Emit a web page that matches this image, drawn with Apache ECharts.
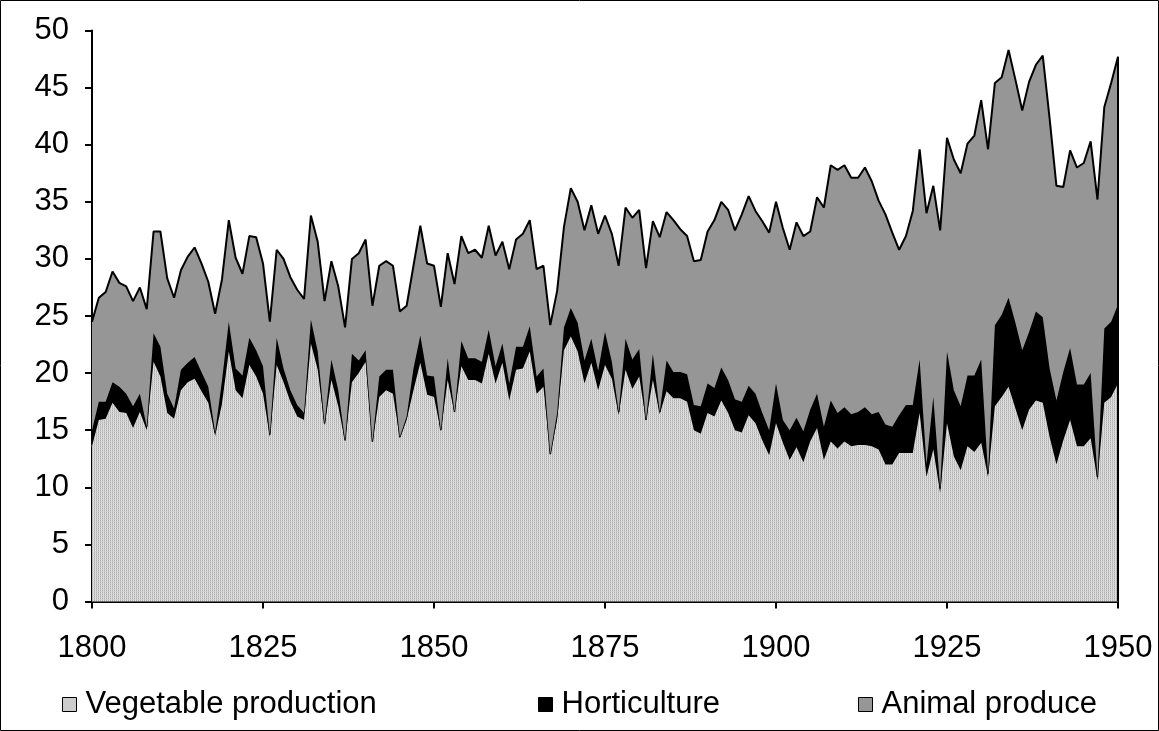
<!DOCTYPE html>
<html>
<head>
<meta charset="utf-8">
<script src="https://cdn.jsdelivr.net/npm/echarts@6/dist/echarts.min.js"></script>
<style>
html,body{margin:0;padding:0;background:#fff;}
#chart{width:1159px;height:731px;}
</style>
</head>
<body>
<div id="chart"></div>
<script>
// categories: years 1800..1950
const years = [];
for (let y = 1800; y <= 1950; y++) years.push(String(y));

const yTicks = [0, 5, 10, 15, 20, 25, 30, 35, 40, 45, 50];

const vegetable = [
 13.6, 15.9, 16.0, 17.4, 16.6, 16.5, 15.2, 16.6, 15.0, 21.0,
 19.7, 16.5, 16.0, 18.5, 19.2, 19.5, 18.4, 17.4, 14.5, 17.3,
 21.9, 18.5, 17.8, 20.7, 19.7, 18.2, 14.4, 20.7, 19.2, 17.5,
 16.2, 15.9, 22.6, 20.3, 15.4, 19.4, 17.1, 14.0, 19.2, 20.0,
 21.0, 13.9, 17.9, 18.5, 18.2, 14.3, 15.9, 18.5, 20.9, 18.1,
 17.9, 14.9, 19.4, 16.5, 20.6, 19.4, 19.4, 19.1, 21.7, 19.1,
 20.9, 17.6, 20.3, 20.4, 21.9, 18.2, 18.8, 12.8, 15.9, 22.0,
 23.2, 21.9, 19.1, 20.9, 18.5, 20.7, 19.5, 16.3, 20.3, 18.6,
 19.7, 15.8, 19.4, 16.4, 18.4, 17.8, 17.8, 17.5, 15.0, 14.7,
 16.5, 16.2, 17.6, 16.5, 15.0, 14.8, 16.3, 15.6, 14.1, 12.8,
 15.6, 13.9, 12.4, 13.5, 12.2, 14.0, 15.2, 12.4, 14.0, 13.4,
 14.0, 13.6, 13.7, 13.7, 13.6, 13.3, 12.0, 12.0, 13.0, 13.0,
 13.0, 16.5, 10.9, 13.3, 9.5, 15.6, 12.7, 11.5, 13.6, 13.1,
 13.9, 10.9, 17.1, 17.9, 18.8, 16.9, 15.0, 16.8, 17.6, 17.4,
 14.4, 12.0, 14.1, 15.9, 13.6, 13.6, 14.3, 10.6, 17.4, 17.9,
 19.1
];

const horticulture = [
 1.4, 1.6, 1.5, 1.8, 2.2, 1.7, 1.9, 1.6, 0.3, 2.5,
 2.6, 1.7, 0.9, 1.8, 1.7, 1.9, 1.7, 1.4, 0.3, 2.0,
 2.6, 1.9, 2.0, 2.4, 2.3, 2.4, 0.2, 2.4, 1.2, 1.0,
 1.0, 0.6, 2.1, 1.6, 0.2, 1.8, 1.4, 0.1, 2.5, 1.1,
 1.0, 0.1, 1.8, 1.8, 2.1, 0.1, 0.3, 1.9, 2.4, 1.7,
 1.8, 0.1, 1.9, 0.1, 2.2, 1.9, 1.9, 1.9, 2.1, 1.5,
 1.7, 1.5, 2.0, 1.9, 2.2, 1.5, 1.6, 0.1, 0.6, 2.0,
 2.5, 2.5, 2.0, 2.1, 1.7, 2.9, 1.5, 0.3, 2.7, 2.6,
 2.4, 0.1, 2.3, 0.2, 2.7, 2.3, 2.3, 2.4, 2.2, 2.4,
 2.6, 2.5, 2.9, 2.9, 2.7, 2.7, 2.6, 2.6, 2.4, 2.2,
 3.5, 2.0, 2.6, 2.6, 2.7, 2.8, 3.0, 2.9, 3.6, 3.1,
 3.0, 2.8, 2.9, 3.3, 2.8, 3.3, 3.5, 3.3, 3.3, 4.2,
 4.2, 4.7, 1.1, 4.6, 0.4, 6.3, 5.8, 5.6, 6.2, 6.7,
 7.3, 0.3, 7.1, 7.2, 7.8, 7.5, 7.0, 6.8, 7.8, 7.5,
 6.0, 5.6, 6.0, 6.3, 5.4, 5.4, 5.7, 0.3, 6.5, 6.6,
 6.9
];

const animal = [
 9.5, 9.1, 9.6, 9.7, 9.1, 9.4, 9.2, 9.3, 10.3, 8.9,
 10.1, 10.1, 9.7, 8.7, 9.3, 9.6, 9.5, 9.2, 10.4, 8.9,
 8.9, 9.7, 8.9, 8.9, 9.9, 9.0, 9.9, 7.7, 9.6, 9.9,
 10.1, 10.0, 9.1, 9.6, 10.7, 8.6, 9.1, 9.9, 8.3, 9.4,
 9.7, 11.9, 9.7, 9.5, 9.1, 11.0, 9.7, 9.0, 9.6, 9.8,
 9.7, 10.8, 9.2, 11.2, 9.2, 9.2, 9.5, 9.1, 9.1, 9.7,
 8.9, 10.0, 9.4, 9.9, 9.3, 9.4, 9.0, 11.3, 10.7, 8.8,
 10.5, 10.6, 11.4, 11.7, 12.0, 10.2, 11.2, 12.8, 11.5, 12.4,
 12.2, 13.3, 11.6, 15.3, 13.0, 13.3, 12.5, 12.1, 12.6, 12.8,
 13.3, 14.7, 14.5, 14.9, 14.8, 16.4, 16.6, 16.0, 16.8, 17.3,
 15.9, 16.8, 15.8, 17.1, 17.1, 15.6, 17.2, 19.2, 20.6, 21.3,
 21.2, 20.7, 20.5, 21.0, 20.4, 18.5, 18.4, 17.0, 14.5, 14.8,
 17.0, 18.4, 22.0, 18.5, 22.6, 18.7, 20.2, 20.4, 20.3, 21.0,
 22.7, 28.4, 21.2, 20.8, 21.7, 21.3, 21.0, 21.9, 21.6, 22.9,
 21.9, 18.8, 16.2, 17.3, 19.0, 19.4, 20.3, 24.3, 19.4, 20.9,
 21.7
];

// dotted grey pattern for the vegetable area
const pc = document.createElement('canvas');
pc.width = 4; pc.height = 4;
const pctx = pc.getContext('2d');
for (let x = 0; x < 4; x++) {
  for (let y = 0; y < 4; y++) {
    let col;
    if (x % 2 === 0) col = (y % 2 === 0) ? '#b2b2b2' : '#c6c6c6';
    else col = (y % 2 === 0) ? '#e2e2e2' : '#d6d6d6';
    pctx.fillStyle = col;
    pctx.fillRect(x, y, 1, 1);
  }
}
const vegPattern = { image: pc, repeat: 'repeat' };

const FONT = "'Liberation Sans', Arial, sans-serif";
const FS = 31;

const chart = echarts.init(document.getElementById('chart'), null, { renderer: 'canvas' });

const lastIdx = years.length - 1;
const lastTotal = vegetable[lastIdx] + horticulture[lastIdx] + animal[lastIdx];

chart.setOption({
  animation: false,
  backgroundColor: '#ffffff',
  textStyle: { fontFamily: FONT },
  graphic: [{
    type: 'rect',
    shape: { x: 0.5, y: 0.5, width: 1158, height: 730 },
    style: { fill: 'none', stroke: '#000', lineWidth: 1 },
    silent: true, z: 100
  }],
  grid: { left: 92, right: 41, top: 30.5, bottom: 129.5, containLabel: false },
  legend: [
    { data: ['Vegetable production'], left: 62, top: 689 },
    { data: ['Horticulture'], left: 538, top: 689 },
    { data: ['Animal produce'], left: 858, top: 689 }
  ].map(l => Object.assign(l, {
    icon: 'rect', itemWidth: 14, itemHeight: 14, itemGap: 0, padding: 0,
    itemStyle: { borderColor: '#000', borderWidth: 1 },
    textStyle: { fontSize: FS, color: '#000', fontFamily: FONT, padding: [0, 0, 0, 4] },
    selectedMode: false
  })),
  xAxis: {
    type: 'category',
    data: years,
    boundaryGap: false,
    axisLine: { lineStyle: { color: '#000', width: 2 } },
    axisTick: { show: true, interval: 24, length: 7, lineStyle: { color: '#000', width: 2 } },
    axisLabel: { interval: 24, fontSize: FS, color: '#000', margin: 31, fontFamily: FONT },
    splitLine: { show: false }
  },
  yAxis: {
    type: 'value',
    min: yTicks[0], max: yTicks[yTicks.length - 1], interval: 5,
    axisLine: { show: true, lineStyle: { color: '#000', width: 2 } },
    axisTick: { show: true, length: 7, lineStyle: { color: '#000', width: 2 } },
    axisLabel: { fontSize: FS, color: '#000', margin: 23, fontFamily: FONT },
    splitLine: { show: false }
  },
  series: [
    {
      name: 'Vegetable production', type: 'line', stack: 'total', data: vegetable,
      showSymbol: false, symbol: 'none',
      itemStyle: { color: vegPattern },
      lineStyle: { color: '#d8d8d8', width: 1 },
      areaStyle: { color: vegPattern, opacity: 1 },
      z: 2
    },
    {
      name: 'Horticulture', type: 'line', stack: 'total', data: horticulture,
      showSymbol: false, symbol: 'none',
      itemStyle: { color: '#000000' },
      lineStyle: { color: '#000000', width: 1.5 },
      areaStyle: { color: '#000000', opacity: 1 },
      z: 3
    },
    {
      name: 'Animal produce', type: 'line', stack: 'total', data: animal,
      showSymbol: false, symbol: 'none',
      itemStyle: { color: '#969696' },
      lineStyle: { color: '#000000', width: 2 },
      areaStyle: { color: '#969696', opacity: 1 },
      markLine: {
        silent: true, symbol: 'none', label: { show: false },
        lineStyle: { color: '#000', width: 2, type: 'solid' },
        data: [[{ coord: [years[lastIdx], 0] }, { coord: [years[lastIdx], lastTotal] }]]
      },
      z: 4
    }
  ]
});
</script>
</body>
</html>
